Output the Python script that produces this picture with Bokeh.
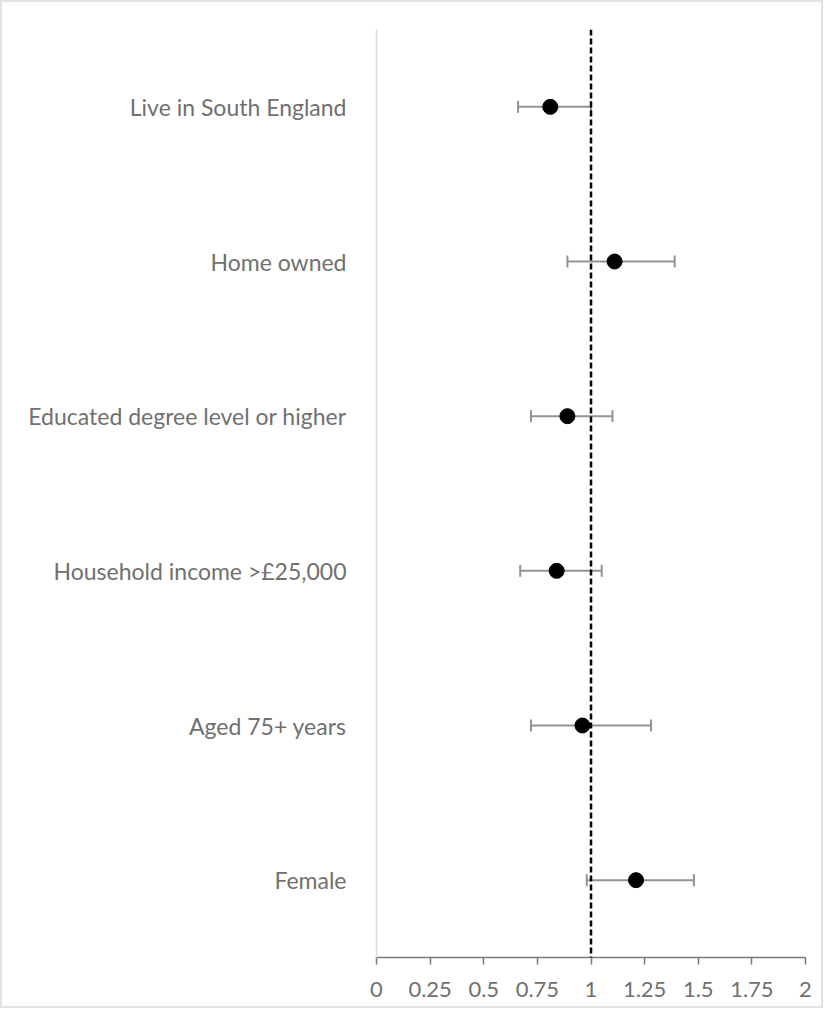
from bokeh.plotting import figure
from bokeh.models import FactorRange, Range1d, FixedTicker, Span, Whisker, TeeHead, ColumnDataSource
from bokeh.embed import file_html
from bokeh.resources import INLINE

# Data (top to bottom as shown in the chart)
categories = ["Live in South England", "Home owned", "Educated degree level or higher",
              "Household income >£25,000", "Aged 75+ years", "Female"]
odds_ratio = [0.81, 1.11, 0.89, 0.84, 0.96, 1.21]
ci_lower = [0.66, 0.89, 0.72, 0.67, 0.72, 0.98]
ci_upper = [1.00, 1.39, 1.10, 1.05, 1.28, 1.48]
tick_values = [0, 0.25, 0.5, 0.75, 1, 1.25, 1.5, 1.75, 2]
tick_labels = ["0", "0.25", "0.5", "0.75", "1", "1.25", "1.5", "1.75", "2"]
reference_line = 1

src = ColumnDataSource(dict(cat=categories, orr=odds_ratio, lo=ci_lower, hi=ci_upper))

p = figure(width=823, height=1008, output_backend="svg", toolbar_location=None,
           x_range=Range1d(0, 2), y_range=FactorRange(factors=list(reversed(categories))),
           min_border_left=374, min_border_right=20, min_border_top=27, min_border_bottom=53)
p.outline_line_color = None
p.xgrid.visible = False
p.ygrid.visible = False
p.styles = {"border": "2px solid #e3e3e3"}

font = "Lato"
# x axis
p.xaxis.ticker = FixedTicker(ticks=tick_values)
p.xaxis.major_label_overrides = {v: l for v, l in zip(tick_values, tick_labels)}
p.xaxis.axis_line_color = "#7a7a7a"
p.xaxis.axis_line_width = 1.5
p.xaxis.major_tick_line_color = "#7a7a7a"
p.xaxis.major_tick_line_width = 1.5
p.xaxis.major_tick_out = 7
p.xaxis.major_tick_in = 0
p.xaxis.minor_tick_line_color = None
p.xaxis.major_label_text_font = font
p.xaxis.major_label_text_font_size = "22px"
p.xaxis.major_label_text_color = "#707070"
p.xaxis.major_label_standoff = 17

# y axis
p.yaxis.axis_line_color = "#d9d9d9"
p.yaxis.axis_line_width = 1.5
p.yaxis.major_tick_line_color = None
p.yaxis.minor_tick_line_color = None
p.yaxis.major_label_text_font = font
p.yaxis.major_label_text_font_size = "23px"
p.yaxis.major_label_text_color = "#707070"
p.yaxis.major_label_standoff = 24

# reference line
p.add_layout(Span(location=reference_line, dimension="height", line_color="black",
                  line_width=2.5, line_dash="6 3"))

# error bars
head = TeeHead(size=12, line_color="#939393", line_width=2)
head2 = TeeHead(size=12, line_color="#939393", line_width=2)
p.add_layout(Whisker(source=src, base="cat", lower="lo", upper="hi", dimension="width",
                     line_color="#939393", line_width=2, lower_head=head, upper_head=head2))

p.scatter(x="orr", y="cat", source=src, size=15, color="black")

open("out.html", "w").write(file_html(p, INLINE))
